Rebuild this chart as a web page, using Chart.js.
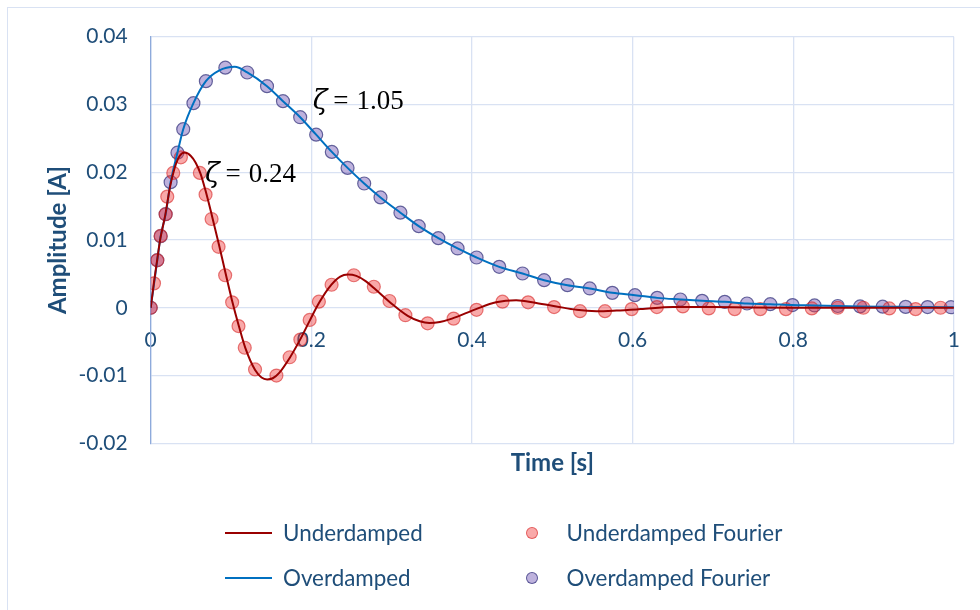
<!DOCTYPE html>
<html>
<head>
<meta charset="utf-8">
<script src="https://cdn.jsdelivr.net/npm/chart.js@4.4.1/dist/chart.umd.min.js"></script>
<style>
  body { margin: 0; background: #fff; }
  #wrap { position: relative; width: 980px; height: 610px; overflow: hidden; }
  #frame { position: absolute; left: 7px; top: 7px; width: 990px; height: 620px; border: 1px solid #d9e2f3; box-sizing: border-box; }
  #legend {
    position: absolute; left: 225px; top: 510px;
    display: grid; grid-template-columns: 283.5px auto; grid-template-rows: 45px 45px;
    grid-auto-flow: column;
    font: 22.4px Lato, sans-serif; color: #1f4e79;
  }
  .item { display: flex; align-items: center; }
  .mark { width: 47px; height: 24px; margin-right: 11px; display: flex; align-items: center; justify-content: center; }
</style>
</head>
<body>
<div id="wrap">
  <div id="frame"></div>
  <canvas id="grafico"></canvas>
  <div id="legend"></div>
</div>
<script>
// analytic responses (time in s, amplitude in A)
const underTime = [0, 0.004, 0.008, 0.012, 0.018, 0.024, 0.030, 0.036, 0.0426, 0.050, 0.056, 0.062, 0.068, 0.076,
  0.085, 0.093, 0.101, 0.110, 0.118, 0.130, 0.138, 0.1449, 0.152, 0.160, 0.173, 0.186, 0.198, 0.210, 0.225, 0.236,
  0.2455, 0.256, 0.268, 0.280, 0.300, 0.320, 0.335, 0.347, 0.360, 0.375, 0.405, 0.430, 0.455, 0.480, 0.505, 0.530,
  0.555, 0.580, 0.610, 0.650, 0.700, 0.800, 0.900, 1.0];
const underAmp = [0, 0.0037, 0.0070, 0.0102, 0.0136, 0.0178, 0.0207, 0.0224, 0.0229, 0.0224, 0.0214, 0.0198, 0.0174, 0.0137,
  0.0093, 0.0052, 0.0012, -0.0028, -0.0060, -0.0092, -0.0103, -0.01058, -0.0104, -0.0096, -0.0074, -0.0047, -0.0019, 0.0008, 0.0034, 0.0046,
  0.0049, 0.0047, 0.0039, 0.0027, 0.0006, -0.0012, -0.0020, -0.00225, -0.0021, -0.0016, -0.0002, 0.0008, 0.0011, 0.0007, 0.0002, -0.0003,
  -0.0005, -0.0004, -0.0002, 0.0001, 0.0001, 0, 0, 0];

const overTime = [0, 0.0082, 0.0124, 0.0186, 0.0248, 0.0333, 0.0405, 0.0532, 0.0687, 0.085, 0.1047, 0.1202, 0.1448, 0.1647,
  0.1861, 0.2060, 0.2255, 0.2451, 0.2658, 0.2861, 0.3109, 0.3337, 0.3581, 0.3821, 0.4057, 0.4339, 0.4629, 0.4898, 0.5188,
  0.5466, 0.5747, 0.6029, 0.6306, 0.6594, 0.6865, 0.7147, 0.7424, 0.7714, 0.7991, 0.8265, 0.8554, 0.8832, 0.9113, 0.9399,
  0.9672, 1.0];
const overAmp = [0, 0.00702, 0.01057, 0.01381, 0.01853, 0.02289, 0.02635, 0.03019, 0.03344, 0.0350, 0.03555, 0.03472, 0.0327, 0.03049,
  0.02812, 0.02554, 0.0230, 0.02064, 0.01834, 0.01628, 0.01403, 0.01204, 0.01027, 0.00875, 0.00742, 0.00604, 0.00506, 0.00407, 0.00333,
  0.00285, 0.0022, 0.00186, 0.00146, 0.00122, 0.00102, 0.00087, 0.00063, 0.00053, 0.0004, 0.00034, 0.00026, 0.0002, 0.00016, 0.00013,
  0.0001, 0.00008];

// Fourier reconstructions
const underFourierTime = [0, 0.0041, 0.0082, 0.0124, 0.0186, 0.0206, 0.0281, 0.0376, 0.0612, 0.0683, 0.0758, 0.0845, 0.0927,
  0.1014, 0.1093, 0.1171, 0.1299, 0.1565, 0.1730, 0.1863, 0.1979, 0.2094, 0.2252, 0.2529, 0.2778, 0.2973, 0.3171, 0.3448,
  0.3771, 0.4057, 0.4380, 0.4699, 0.5022, 0.5345, 0.5656, 0.5988, 0.6302, 0.6625, 0.6948, 0.7271, 0.7590, 0.7908, 0.8231,
  0.8554, 0.8873, 0.9196, 0.9523, 0.9834];
const underFourierAmp = [0, 0.0036, 0.0070, 0.0106, 0.0138, 0.0164, 0.0199, 0.0222, 0.0199, 0.0167, 0.0131, 0.0090, 0.0048,
  0.0008, -0.0027, -0.0059, -0.0091, -0.0100, -0.0073, -0.0047, -0.0018, 0.0009, 0.0034, 0.0048, 0.0031, 0.0010, -0.0011, -0.0023,
  -0.0016, -0.0003, 0.0009, 0.0008, 0.0001, -0.0005, -0.0005, -0.0002, 0.0001, 0.0002, -0.0001, -0.0002, -0.0002, -0.0002, -0.0001,
  0, 0, -0.0001, -0.0002, 0];

const overFourierTime = [0, 0.0082, 0.0124, 0.0186, 0.0248, 0.0333, 0.0405, 0.0532, 0.0687, 0.0929, 0.1202, 0.1448, 0.1647,
  0.1861, 0.2060, 0.2255, 0.2451, 0.2658, 0.2861, 0.3109, 0.3337, 0.3581, 0.3821, 0.4057, 0.4339, 0.4629, 0.4898, 0.5188,
  0.5466, 0.5747, 0.6029, 0.6306, 0.6594, 0.6865, 0.7147, 0.7424, 0.7714, 0.7991, 0.8265, 0.8554, 0.8832, 0.9113, 0.9399,
  0.9672, 0.9963];
const overFourierAmp = [0, 0.00702, 0.01057, 0.01381, 0.01853, 0.02289, 0.02635, 0.03019, 0.03344, 0.03543, 0.03472, 0.0327, 0.03049,
  0.02812, 0.02554, 0.0230, 0.02064, 0.01834, 0.01628, 0.01403, 0.01204, 0.01027, 0.00875, 0.00742, 0.00604, 0.00506, 0.00407, 0.00333,
  0.00285, 0.0022, 0.00186, 0.00146, 0.00122, 0.00102, 0.00087, 0.00063, 0.00053, 0.0004, 0.00034, 0.00026, 0.0002, 0.00016, 0.00013,
  0.0001, 0.00008];

const xTicks = [0, 0.2, 0.4, 0.6, 0.8, 1];
const yTicks = [-0.02, -0.01, 0, 0.01, 0.02, 0.03, 0.04];

// damping ratio notes: [ratio, time, amplitude at text baseline]
const zetaNotes = [['1.05', 0.2016, 0.0294], ['0.24', 0.0675, 0.0185]];

const azul = '#1f4e79';
const grade = '#d9e2f3';
const fonte = { family: 'Lato', size: 21 };
const fonteTitulo = { family: 'Lato', size: 24, weight: 'bold' };

const pontos = (ts, vs) => ts.map((t, i) => ({ x: t, y: vs[i] }));
const fixaTicks = lista => scale => { scale.ticks = lista.map(v => ({ value: v })); };

const zetaPlugin = {
  id: 'zeta',
  afterDatasetsDraw(chart) {
    const { ctx, scales: { x, y } } = chart;
    ctx.save();
    ctx.fillStyle = '#000';
    ctx.textBaseline = 'alphabetic';
    zetaNotes.forEach(([valor, t, a]) => {
      let px = x.getPixelForValue(t);
      const py = y.getPixelForValue(a);
      ctx.font = 'italic 27px "DejaVu Serif"';
      ctx.fillText('ζ', px, py);
      px += ctx.measureText('ζ').width + 6;
      ctx.font = '27px "Liberation Serif"';
      ctx.fillText('=', px, py);
      px += ctx.measureText('=').width + 8;
      ctx.fillText(valor, px, py);
    });
    ctx.restore();
  }
};

const ctx = document.getElementById('grafico').getContext('2d');
document.getElementById('grafico').width = 980;
document.getElementById('grafico').height = 610;

const myChart = new Chart(ctx, {
  type: 'line',
  data: {
    datasets: [
      {
        label: 'Underdamped', data: pontos(underTime, underAmp),
        borderColor: '#990000', borderWidth: 2, pointRadius: 0,
        cubicInterpolationMode: 'monotone', order: 1
      },
      {
        label: 'Overdamped', data: pontos(overTime, overAmp),
        borderColor: '#0070c0', borderWidth: 2, pointRadius: 0,
        cubicInterpolationMode: 'monotone', order: 2
      },
      {
        label: 'Underdamped Fourier', data: pontos(underFourierTime, underFourierAmp),
        showLine: false, pointRadius: 6.5, pointBorderWidth: 1.2,
        backgroundColor: 'rgba(240, 50, 50, 0.42)', borderColor: 'rgba(215, 40, 40, 0.6)', order: 3
      },
      {
        label: 'Overdamped Fourier', data: pontos(overFourierTime, overFourierAmp),
        showLine: false, pointRadius: 6.5, pointBorderWidth: 1.2,
        backgroundColor: 'rgba(110, 85, 180, 0.45)', borderColor: 'rgba(45, 45, 120, 0.7)', order: 4
      }
    ]
  },
  options: {
    responsive: false,
    animation: false,
    layout: { padding: { left: 44, top: 36.7, right: 22, bottom: 126.7 } },
    plugins: { legend: { display: false }, tooltip: { enabled: false } },
    scales: {
      x: {
        type: 'linear', min: 0, max: 1,
        afterBuildTicks: fixaTicks(xTicks),
        ticks: { display: false },
        grid: { color: grade, drawTicks: false, lineWidth: 1.3 },
        border: { display: false },
        title: { display: true, text: 'Time [s]', color: azul, font: fonteTitulo, padding: { top: 0, bottom: 6 } },
        afterFit: scale => { scale.height = 40; }
      },
      // tick labels sitting on the zero line
      xZero: {
        type: 'linear', min: 0, max: 1, position: { y: 0 },
        afterBuildTicks: fixaTicks(xTicks),
        grid: { display: false, drawTicks: false },
        border: { display: false },
        ticks: { color: azul, font: fonte, padding: 20, callback: v => String(v) }
      },
      y: {
        min: -0.02, max: 0.04,
        afterBuildTicks: fixaTicks(yTicks),
        ticks: { color: azul, font: fonte, padding: 23, callback: v => String(+v.toFixed(2)) },
        grid: { color: grade, drawTicks: false, lineWidth: 1.3 },
        border: { color: '#8eaadb', width: 1.3 },
        title: { display: true, text: 'Amplitude [A]', color: azul, font: fonteTitulo, padding: { top: 0, bottom: 0 } },
        afterFit: scale => { scale.width = 106.7; }
      }
    }
  },
  plugins: [zetaPlugin]
});

// legend in two columns, built from the chart's datasets
const legenda = document.getElementById('legend');
myChart.data.datasets.forEach(ds => {
  const item = document.createElement('div');
  item.className = 'item';
  const mark = document.createElement('span');
  mark.className = 'mark';
  const simbolo = document.createElement('span');
  if (ds.showLine === false) {
    simbolo.style.cssText = `width:12px;height:12px;border-radius:50%;box-sizing:border-box;background:${ds.backgroundColor};border:1.2px solid ${ds.borderColor}`;
  } else {
    simbolo.style.cssText = `width:47px;height:2px;background:${ds.borderColor}`;
  }
  mark.appendChild(simbolo);
  const texto = document.createElement('span');
  texto.textContent = ds.label;
  item.appendChild(mark);
  item.appendChild(texto);
  legenda.appendChild(item);
});
</script>
</body>
</html>
